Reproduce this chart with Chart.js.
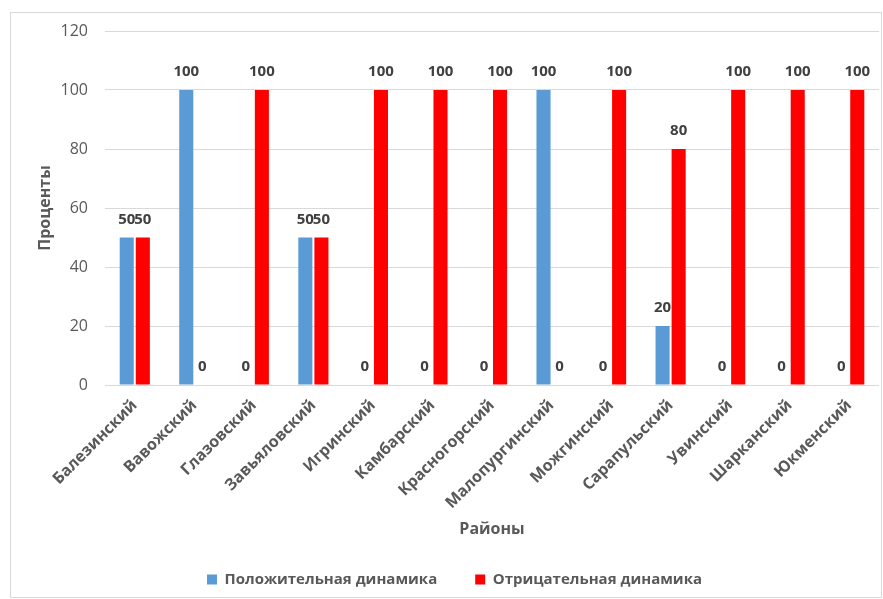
<!DOCTYPE html>
<html lang="ru">
<head>
  <meta charset="UTF-8">
  <title>Динамика по районам</title>
  <style>
    body { margin: 0; background: #fff; }
    .frame {
      position: absolute; left: 10px; top: 12px;
      width: 870px; height: 584px;
      border: 1px solid #d9d9d9;
    }
    #chart { position: absolute; left: 0; top: 0; }
  </style>
</head>
<body>
  <div class="frame"></div>
  <canvas id="chart" width="883" height="599"></canvas>
  <script src="https://cdn.jsdelivr.net/npm/chart.js"></script>
  <script>
    // районы и значения (проценты)
    const districts = ['Балезинский', 'Вавожский', 'Глазовский', 'Завьяловский', 'Игринский',
      'Камбарский', 'Красногорский', 'Малопургинский', 'Можгинский', 'Сарапульский',
      'Увинский', 'Шарканский', 'Юкменский'];
    const positive = [50, 100, 0, 50, 0, 0, 0, 100, 0, 20, 0, 0, 0];
    const negative = [50, 0, 100, 50, 100, 100, 100, 0, 100, 80, 100, 100, 100];
    const yTicks = [0, 20, 40, 60, 80, 100, 120];

    const fontFam = '"Open Sans", "DejaVu Sans", sans-serif';
    const grey = '#595959';

    // подписи значений над столбцами
    const valueLabels = {
      id: 'valueLabels',
      afterDatasetsDraw(chart) {
        const ctx = chart.ctx;
        ctx.save();
        ctx.font = 'bold 15px ' + fontFam;
        ctx.fillStyle = '#404040';
        ctx.textAlign = 'center';
        ctx.textBaseline = 'middle';
        chart.data.datasets.forEach((ds, i) => {
          chart.getDatasetMeta(i).data.forEach((bar, j) => {
            ctx.fillText(ds.data[j], bar.x, bar.y - 18);
          });
        });
        ctx.restore();
      }
    };

    new Chart(document.getElementById('chart'), {
      type: 'bar',
      data: {
        labels: districts,
        datasets: [
          { label: 'Положительная динамика', data: positive, backgroundColor: '#5B9BD5' },
          { label: 'Отрицательная динамика', data: negative, backgroundColor: '#FF0000' }
        ]
      },
      options: {
        responsive: false,
        animation: false,
        categoryPercentage: 0.54,
        barPercentage: 0.875,
        layout: { padding: { left: 30, right: 4, top: 31, bottom: 2 } },
        plugins: {
          tooltip: { enabled: false },
          legend: {
            position: 'bottom',
            labels: {
              boxWidth: 10, boxHeight: 10, padding: 38,
              color: grey,
              font: { family: fontFam, size: 15, weight: 'bold' }
            }
          }
        },
        scales: {
          x: {
            grid: { display: false },
            border: { display: false },
            ticks: {
              color: grey, minRotation: 45, maxRotation: 45,
              font: { family: fontFam, size: 16, weight: 'bold' }
            },
            title: {
              display: true, text: 'Районы', color: grey,
              font: { family: fontFam, size: 16, weight: 'bold' },
              padding: { top: 0, bottom: -5 }
            },
            afterFit(s) { s.height = 149; }
          },
          y: {
            min: 0, max: 120,
            afterBuildTicks(s) { s.ticks = yTicks.map(v => ({ value: v })); },
            grid: { color: '#d9d9d9', drawTicks: false },
            border: { display: false },
            ticks: {
              color: grey, padding: 17,
              font: { family: fontFam, size: 16 }
            },
            title: {
              display: true, text: 'Проценты', color: grey,
              font: { family: fontFam, size: 16, weight: 'bold' },
              padding: { top: 6, bottom: 0 }
            },
            afterFit(s) { s.width = 75; }
          }
        }
      },
      plugins: [valueLabels]
    });
  </script>
</body>
</html>
